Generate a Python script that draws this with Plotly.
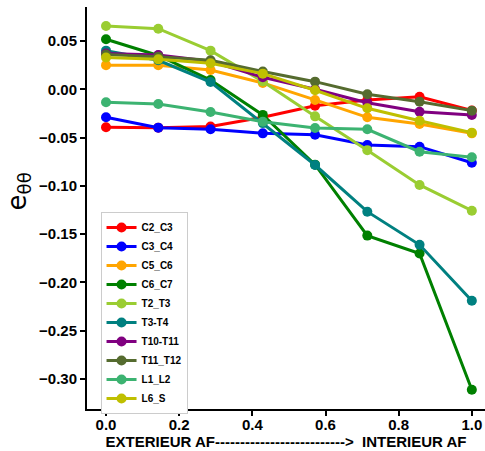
import plotly.graph_objects as go

x_pos = [0.0, 1/7, 2/7, 3/7, 4/7, 5/7, 6/7, 1.0]

series_names = ["C2_C3", "C3_C4", "C5_C6", "C6_C7", "T2_T3", "T3-T4",
                "T10-T11", "T11_T12", "L1_L2", "L6_S"]

C2_C3 = [-0.0393, -0.0397, -0.0385, -0.029, -0.017, -0.011, -0.0077, -0.022]
C3_C4 = [-0.029, -0.0397, -0.0414, -0.0456, -0.047, -0.0577, -0.0594, -0.076]
C5_C6 = [0.025, 0.025, 0.020, 0.0066, -0.011, -0.029, -0.036, -0.0456]
C6_C7 = [0.0518, 0.035, 0.0096, -0.0265, -0.078, -0.1515, -0.170, -0.311]
T2_T3 = [0.0655, 0.0627, 0.040, 0.008, -0.028, -0.063, -0.099, -0.1257]
T3_T4 = [0.040, 0.030, 0.0075, -0.035, -0.0784, -0.1267, -0.161, -0.219]
T10_T11 = [0.037, 0.0355, 0.029, 0.0124, 0.0, -0.0139, -0.0232, -0.0266]
T11_T12 = [0.036, 0.0338, 0.030, 0.0185, 0.0079, -0.0052, -0.0128, -0.0221]
L1_L2 = [-0.0135, -0.0152, -0.0235, -0.0335, -0.040, -0.0414, -0.0646, -0.0704]
L6_S = [0.033, 0.031, 0.027, 0.0162, -0.001, -0.0197, -0.0325, -0.0449]

series_values = [C2_C3, C3_C4, C5_C6, C6_C7, T2_T3, T3_T4,
                 T10_T11, T11_T12, L1_L2, L6_S]
series_colors = ["#ff0000", "#0000ff", "#ffa500", "#008000", "#9acd32",
                 "#008080", "#800080", "#556b2f", "#3cb371", "#bfbf00"]

y_ticks = [0.05, 0.00, -0.05, -0.10, -0.15, -0.20, -0.25, -0.30]
y_tick_labels = ["0.05", "0.00", "\u22120.05", "\u22120.10", "\u22120.15",
                 "\u22120.20", "\u22120.25", "\u22120.30"]
x_ticks = [0.0, 0.2, 0.4, 0.6, 0.8, 1.0]
x_tick_labels = ["0.0", "0.2", "0.4", "0.6", "0.8", "1.0"]

x_title = "EXTERIEUR AF" + "-" * 26 + ">\u00a0 INTERIEUR AF"

FONT = "Liberation Sans"

fig = go.Figure()
for name, vals, col in zip(series_names, series_values, series_colors):
    fig.add_trace(go.Scatter(
        x=x_pos, y=vals, name=name, mode="lines+markers",
        line=dict(color=col, width=3),
        marker=dict(color=col, size=10),
    ))

fig.update_layout(
    width=485, height=451,
    margin=dict(l=87, r=0, t=7, b=42),
    paper_bgcolor="white", plot_bgcolor="white",
    showlegend=True,
    legend=dict(
        x=0.034, y=0.49, xanchor="left", yanchor="top",
        bgcolor="white", bordercolor="#cccccc", borderwidth=1,
        font=dict(family=FONT, size=10, color="black", weight="bold"),
        tracegroupgap=0, itemwidth=30,
    ),
    xaxis=dict(
        range=[-0.052, 1.036], tickvals=x_ticks, ticktext=x_tick_labels,
        showgrid=False, zeroline=False,
        showline=True, linecolor="black", linewidth=2,
        ticks="outside", ticklen=5, tickwidth=2, tickcolor="black",
        ticklabelstandoff=-4,
        tickfont=dict(family=FONT, size=15, color="black", weight="bold"),
        title=dict(text=x_title, standoff=0,
                   font=dict(family=FONT, size=15, color="black", weight="bold")),
    ),
    yaxis=dict(
        range=[-0.331, 0.0852], tickvals=y_ticks, ticktext=y_tick_labels,
        showgrid=False, zeroline=False,
        showline=True, linecolor="black", linewidth=2,
        ticks="outside", ticklen=5, tickwidth=2, tickcolor="black",
        tickfont=dict(family=FONT, size=15, color="black", weight="bold"),
    ),
    annotations=[dict(
        text="e<sub>\u03b8\u03b8</sub>", textangle=-90,
        xref="paper", yref="paper", x=-0.172, y=0.54,
        xanchor="center", yanchor="middle", showarrow=False,
        font=dict(family="DejaVu Sans", size=26, color="black"),
    )],
)

fig.write_html("out.html", config={"displayModeBar": False},
               post_script="document.body.style.margin='0';document.body.style.overflow='hidden';")
